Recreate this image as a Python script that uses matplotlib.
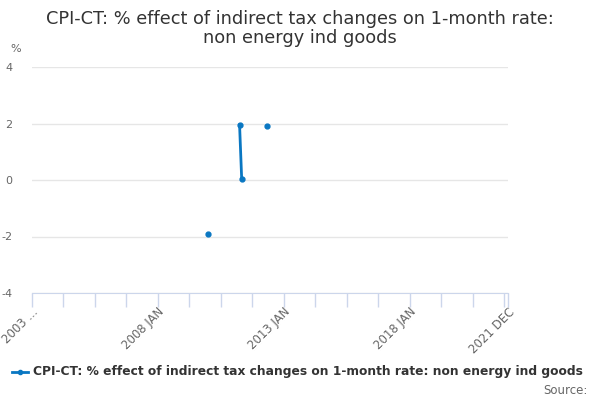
import numpy as np
import matplotlib
matplotlib.use('Agg')
import matplotlib.pyplot as plt

# monthly axis, 2003 JAN .. 2021 DEC
start_year = 2003
n_months = 228

# the only months with values (index from 2003 JAN) and their values
point_months = [84, 99, 100, 112]
point_values = [-1.9, 1.95, 0.05, 1.9]

tick_label_text = {0: '2003 ...', 60: '2008 JAN', 120: '2013 JAN',
                   180: '2018 JAN', 227: '2021 DEC'}
y_ticks = [-4, -2, 0, 2, 4]

title = 'CPI-CT: % effect of indirect tax changes on 1-month rate:\nnon energy ind goods'
series_name = 'CPI-CT: % effect of indirect tax changes on 1-month rate: non energy ind goods'

blue = '#0a77c2'
grey = '#666666'


def build_series():
    vals = np.full(n_months, np.nan)
    for m, v in zip(point_months, point_values):
        vals[m] = v
    return vals


def main():
    vals = build_series()
    months = np.arange(n_months)

    fig = plt.figure(figsize=(6, 4), dpi=100)
    ax = fig.add_axes([0.053, 0.2675, 0.794, 0.565])
    ax.plot(months, vals, color=blue, lw=2, marker='o', ms=3.5, zorder=3)

    ax.set_xlim(0, n_months - 1)
    ax.set_ylim(-4, 4)
    ax.set_yticks(y_ticks)
    ax.set_yticklabels([str(t) for t in y_ticks])
    ax.grid(axis='y', color='#e6e6e6', lw=1)
    ax.set_axisbelow(True)

    ticks = list(range(0, n_months, 15)) + [n_months - 1]
    ax.set_xticks(ticks)
    ax.set_xticklabels([tick_label_text.get(t, '') for t in ticks],
                       rotation=45, ha='right', rotation_mode='anchor')

    for side in ['top', 'right', 'left']:
        ax.spines[side].set_visible(False)
    ax.spines['bottom'].set_color('#ccd6eb')
    ax.tick_params(axis='x', colors='#ccd6eb', length=10, width=1, labelcolor=grey,
                   labelsize=8.5, pad=-1)
    ax.tick_params(axis='y', length=0, labelcolor=grey, labelsize=8, pad=14)

    fig.text(0.5, 0.975, title, ha='center', va='top', fontsize=12.8,
             color='#333333', linespacing=1.1)
    fig.text(0.017, 0.87, '%', fontsize=8, color=grey)

    # legend
    fig.lines.append(plt.Line2D([0.02, 0.047], [0.07, 0.07], color=blue, lw=2,
                                transform=fig.transFigure))
    fig.lines.append(plt.Line2D([0.0335], [0.07], color=blue, marker='o', ms=3,
                                transform=fig.transFigure))
    fig.text(0.055, 0.07, series_name, fontsize=8.85, fontweight='bold',
             color='#333333', va='center')
    fig.text(0.98, 0.025, 'Source:', fontsize=8.5, color=grey, ha='right', va='center')

    fig.savefig('out.png', dpi=100)


if __name__ == "__main__":
    main()
